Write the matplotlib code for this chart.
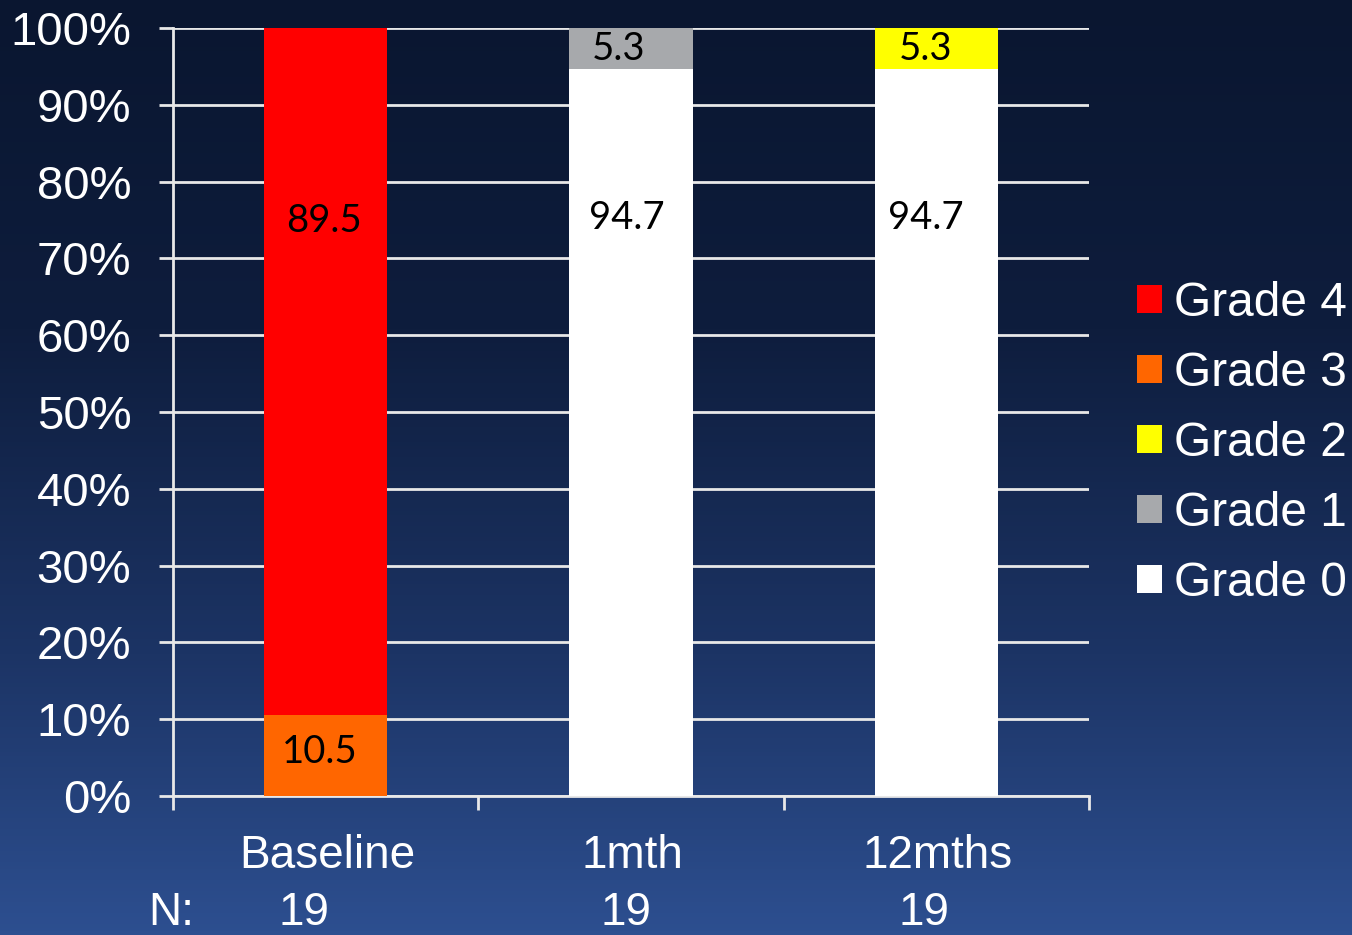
import numpy as np
import matplotlib
matplotlib.use("Agg")
import matplotlib.pyplot as plt
from matplotlib.patches import Patch
from matplotlib.colors import LinearSegmentedColormap

# ---- data ----
categories = ["Baseline", "1mth", "12mths"]
n_counts = ["19", "19", "19"]
grades = ["Grade 0", "Grade 1", "Grade 2", "Grade 3", "Grade 4"]
grade0 = [0.0, 94.7, 94.7]
grade1 = [0.0, 5.3, 0.0]
grade2 = [0.0, 0.0, 5.3]
grade3 = [10.5, 0.0, 0.0]
grade4 = [89.5, 0.0, 0.0]
yticks = [0, 10, 20, 30, 40, 50, 60, 70, 80, 90, 100]

series = [grade0, grade1, grade2, grade3, grade4]
colors = ["#ffffff", "#a7a9ac", "#ffff00", "#ff6600", "#ff0000"]

W, H = 1352, 935
fig = plt.figure(figsize=(W / 100, H / 100), dpi=100)

# gradient backdrop
bg = fig.add_axes([0, 0, 1, 1], zorder=-10)
cmap = LinearSegmentedColormap.from_list(
    "bg", [(0.0, "#0a1630"), (0.35, "#0e1d3d"), (0.7, "#1c3465"), (1.0, "#2d4f90")])
grad = np.linspace(0, 1, 256).reshape(-1, 1)
bg.imshow(grad, aspect="auto", cmap=cmap, extent=[0, 1, 0, 1], origin="upper")
bg.axis("off")

ax = fig.add_axes([173 / W, 1 - 796 / H, (1089 - 173) / W, (796 - 28) / H])
ax.patch.set_alpha(0)

x = np.arange(len(categories))
bar_w = 0.405
bottom = np.zeros(len(categories))
for vals, col in zip(series, colors):
    vals = np.array(vals)
    ax.bar(x, vals, bar_w, bottom=bottom, color=col, zorder=3, linewidth=0)
    bottom += vals

# value labels (segment values drawn from the same arrays)
lab_font = dict(family="Lato", fontsize=27.5, color="black", ha="center", va="center", zorder=5)
ax.text(x[0] - 0.005, 74.9, f"{grade4[0]:.1f}", **lab_font)
ax.text(x[0] - 0.02, grade3[0] / 2 + 0.5, f"{grade3[0]:.1f}", **lab_font)
ax.text(x[1] - 0.015, 75.2, f"{grade0[1]:.1f}", **lab_font)
ax.text(x[1] - 0.04, grade0[1] + grade1[1] / 2 - 0.1, f"{grade1[1]:.1f}", **lab_font)
ax.text(x[2] - 0.035, 75.2, f"{grade0[2]:.1f}", **lab_font)
ax.text(x[2] - 0.035, grade0[2] + grade2[2] / 2 - 0.1, f"{grade2[2]:.1f}", **lab_font)

ax.set_xlim(-0.5, 2.5)
ax.set_ylim(0, 100)
ax.set_yticks(yticks)
ax.set_yticklabels([f"{v}%" for v in yticks])
ax.yaxis.grid(True, color="#e8e8e8", linewidth=2, zorder=1)
ax.set_axisbelow(True)

ax.tick_params(axis="y", direction="out", length=10, width=2, color="#e8e8e8",
               labelcolor="white", labelsize=34, pad=20)
for lbl in ax.get_yticklabels():
    lbl.set_family("Liberation Sans")

ax.set_xticks([-0.5, 0.5, 1.5, 2.5])
ax.set_xticklabels([])
ax.tick_params(axis="x", direction="out", length=10, width=2, color="#e8e8e8")

for s in ["top", "right"]:
    ax.spines[s].set_visible(False)
for s in ["left", "bottom"]:
    ax.spines[s].set_color("#e8e8e8")
    ax.spines[s].set_linewidth(2)

# category names and counts below the axis
cat_font = dict(family="Liberation Sans", fontsize=33, color="white", ha="center", va="center")
for xi, name in zip(x, categories):
    ax.text(xi + 0.005, -7.8, name, clip_on=False, **cat_font)
n_offsets = [-0.07, -0.015, -0.04]
for xi, n, off in zip(x, n_counts, n_offsets):
    ax.text(xi + off, -15.2, n, clip_on=False, **cat_font)
ax.text(-0.507, -15.2, "N:", clip_on=False, **cat_font)

handles = [Patch(facecolor=c, edgecolor="none") for c in colors][::-1]
labels = grades[::-1]
leg = fig.legend(handles, labels, loc="upper left", bbox_to_anchor=(1137 / W, 1 - 281 / H),
                 frameon=False, prop={"family": "Liberation Sans", "size": 34.5},
                 handlelength=0.52, handleheight=0.52, handletextpad=0.25,
                 labelspacing=0.52, borderaxespad=0, borderpad=0)
for t in leg.get_texts():
    t.set_color("white")

fig.savefig("out.png", dpi=100)
